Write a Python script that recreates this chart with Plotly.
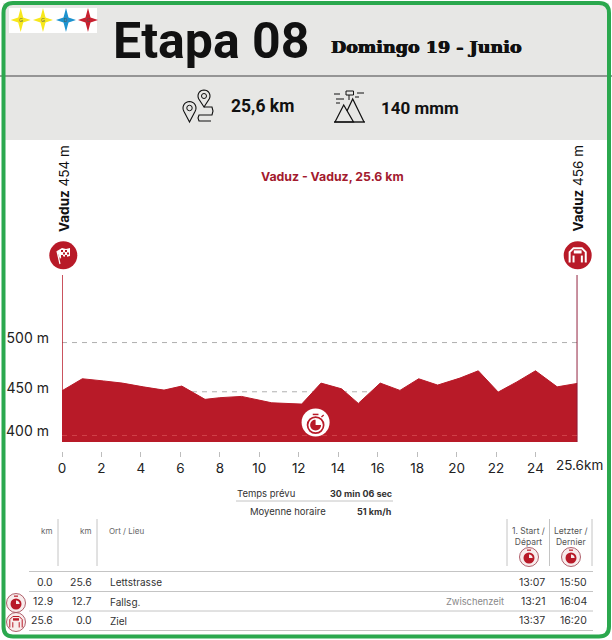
import numpy as np
import plotly.graph_objects as go

W, H = 612, 640
RED = "#b81a28"
DARK = "#222222"
GREEN = "#2ba84e"
GREY_BG = "#e7e7e5"
LINE_GREY = "#c4c4c4"
BLACK = "#111111"
FONT = "Inter"

# Profil (km auf der Achse des Bildes, Hoehe in m)
km = [0, 1.03, 2.1, 3.06, 4.12, 5.17, 6.07, 7.25, 8.0, 9.1, 10.63, 12.15, 13.13, 14.17,
      15.02, 16.13, 17.13, 18.08, 19.04, 20.17, 21.1, 22.11, 23.05, 24.0, 25.1, 26.12]
elevation = [451, 463.2, 461, 458.8, 455, 451.7, 455.8, 442.3, 444, 445.3, 438.8, 437.5, 458.8, 453,
             438.2, 458.8, 451.4, 463.2, 456.8, 463.9, 471.3, 449.7, 460, 471.3, 455, 458.5]
km_ticks = [0, 2, 4, 6, 8, 10, 12, 14, 16, 18, 20, 22, 24]
km_end_label = "25.6km"
elev_ticks = [500, 450, 405.6]
elev_labels = ["500 m", "450 m", "400 m"]

# Tabelle
col_km_done = ["0.0", "12.9", "25.6"]
col_km_left = ["25.6", "12.7", "0.0"]
col_place = ["Lettstrasse", "Fallsg.", "Ziel"]
col_note = ["", "Zwischenzeit", ""]
col_first = ["13:07", "13:21", "13:37"]
col_last = ["15:50", "16:04", "16:20"]


def X(px):
    return px / W


def Y(py):
    return 1 - py / H


shapes = []
annotations = []


def text(px, py, s, size=10, color=DARK, anchor="center", family=FONT, angle=0, shadow=None):
    font = dict(size=size, color=color, family=family)
    if shadow:
        font["shadow"] = shadow
    annotations.append(dict(x=X(px), y=Y(py), xref="paper", yref="paper", text=s, showarrow=False,
                            xanchor=anchor, yanchor="middle", textangle=angle, font=font,
                            borderpad=0, borderwidth=0))


def rect(x0, y0, x1, y1, fill, line=None):
    shapes.append(dict(type="rect", xref="paper", yref="paper", x0=X(x0), x1=X(x1), y0=Y(y0), y1=Y(y1),
                       fillcolor=fill, line=dict(width=0) if line is None else line))


def seg(x0, y0, x1, y1, color=LINE_GREY, width=1, dash="solid"):
    shapes.append(dict(type="line", xref="paper", yref="paper", x0=X(x0), x1=X(x1), y0=Y(y0), y1=Y(y1),
                       line=dict(color=color, width=width, dash=dash)))


def circle(cx, cy, r, fill="rgba(0,0,0,0)", color=None, width=1):
    shapes.append(dict(type="circle", xref="paper", yref="paper", x0=X(cx - r), x1=X(cx + r),
                       y0=Y(cy + r), y1=Y(cy - r), fillcolor=fill,
                       line=dict(width=0) if color is None else dict(color=color, width=width)))


def poly(points, fill="rgba(0,0,0,0)", color=None, width=1, close=True):
    d = "M" + " L".join(f"{X(a):.5f},{Y(b):.5f}" for a, b in points) + (" Z" if close else "")
    shapes.append(dict(type="path", xref="paper", yref="paper", path=d, fillcolor=fill,
                       line=dict(width=0) if color is None else dict(color=color, width=width)))


def star(cx, cy, color, letter):
    rx, ry, k = 10, 12, 2.5
    pts = [(cx, cy - ry), (cx + k, cy - k), (cx + rx, cy), (cx + k, cy + k),
           (cx, cy + ry), (cx - k, cy + k), (cx - rx, cy), (cx - k, cy - k)]
    poly(pts, fill=color)
    text(cx, cy, letter, size=5, color="#555555", family="Liberation Sans")


def pin(cx, cy, r, tip):
    angles = np.radians(np.arange(150, 391, 15))
    pts = [(cx + r * np.cos(a), cy + r * np.sin(a)) for a in angles]
    poly([(cx, tip)] + pts, color=BLACK, width=1.1)
    circle(cx, cy, r * 0.42, color=BLACK, width=1)


def pie(cx, cy, r, color):
    # Viertel oben rechts bleibt frei
    angles = np.radians(np.arange(0, 271, 15))
    poly([(cx, cy)] + [(cx + r * np.cos(a), cy + r * np.sin(a)) for a in angles], fill=color)


def stopwatch(cx, cy, r, color, bg):
    circle(cx, cy + r * 0.2, r * 0.62, fill=bg, color=color, width=1.7)
    seg(cx - r * 0.22, cy - r * 0.62, cx + r * 0.22, cy - r * 0.62, color, 1.5)
    seg(cx + r * 0.45, cy - r * 0.42, cx + r * 0.62, cy - r * 0.58, color, 1.3)
    pie(cx, cy + r * 0.2, r * 0.42, color)


def small_timer(cx, cy, r=9.5):
    circle(cx, cy, r, fill="#f8ecec", color="#9c3a48", width=0.8)
    circle(cx, cy + 1, r * 0.58, fill=RED)
    seg(cx - 2, cy - r * 0.72, cx + 2, cy - r * 0.72, RED, 1.2)
    angles = np.radians(np.arange(270, 361, 15))
    poly([(cx, cy + 1)] + [(cx + 3.6 * np.cos(a), cy + 1 + 3.6 * np.sin(a)) for a in angles], fill="#f8ecec")


def arch(cx, cy, r, color, width):
    # Zielbogen
    poly([(cx - r * 0.62, cy + r * 0.55), (cx - r * 0.62, cy - r * 0.25), (cx - r * 0.32, cy - r * 0.55),
          (cx + r * 0.32, cy - r * 0.55), (cx + r * 0.62, cy - r * 0.25), (cx + r * 0.62, cy + r * 0.55)],
         color=color, width=width, close=False)
    rect(cx - r * 0.3, cy - r * 0.38, cx + r * 0.3, cy - r * 0.14, color)
    seg(cx - r * 0.32, cy + r * 0.02, cx - r * 0.32, cy + r * 0.55, color, width)
    seg(cx + r * 0.32, cy + r * 0.02, cx + r * 0.32, cy + r * 0.55, color, width)


# Hintergrund und Kopf
rect(3, 3, 609, 140, GREY_BG)
seg(0, 76, W, 76, "#7a7a7a", 1.5)
rect(9, 8, 97, 33, "white")
star(20.7, 20, "#f7e81c", "G")
star(43, 20, "#f7e81c", "G")
star(66, 20, "#1d93cf", "D")
star(88, 20, "#c8202f", "C")
text(210.5, 41, "<b>Etapa 08</b>", size=50, color=BLACK, family="Roboto")
text(426.5, 47, "<b>Domingo 19 - Junio</b>", size=17.5, color=BLACK, family="DejaVu Serif",
     shadow="0.5px 0 0 #111111, -0.5px 0 0 #111111")
text(262, 106, "<b>25,6 km</b>", size=17.5, color=BLACK, family="Roboto")
text(420, 107.5, "<b>140 mmm</b>", size=17, color=BLACK, family="Roboto")

# Routen-Symbol
pin(204, 96, 6, 107)
pin(189.5, 108, 6.5, 122)
poly([(204, 107), (212, 107), (213, 111), (212, 115), (199, 115), (198, 118), (199, 121), (211, 121)],
     color=BLACK, width=1.1, close=False)

# Berg-Symbol
poly([(335, 122), (343.7, 105), (353.5, 122)], color=BLACK, width=1.2)
poly([(347, 111), (352.7, 99), (364, 122)], color=BLACK, width=1.2, close=False)
seg(334, 122, 365, 122, BLACK, 1.4)
seg(349, 92, 349, 100, BLACK, 1)
rect(346, 91, 353.5, 95, GREY_BG, dict(color=BLACK, width=1))
for a, b, c in [(334, 94, 340), (336, 99, 344), (336, 103, 340), (357, 93, 364), (355, 97, 359)]:
    seg(a, b, c, b, BLACK, 1)

# Texte und Symbole im Diagramm
text(64, 189, "<b>Vaduz</b> 454 m", size=13.5, color=BLACK, angle=-90)
text(577.5, 189, "<b>Vaduz</b> 456 m", size=13.5, color=BLACK, angle=-90)
text(332, 176, "<b>Vaduz - Vaduz, 25.6 km</b>", size=12.3, color="#a31a2e")

circle(63.3, 255.3, 14, fill=RED)
poly([(57, 251), (62, 248), (66, 249), (70, 248), (70, 256), (66, 257), (62, 256), (60, 259)], fill="white")
seg(57, 251, 60, 264, "white", 1.2)
for px, py in [(61, 250), (65, 250), (63, 252.5), (67, 252.5), (61, 255), (65, 255)]:
    rect(px, py, px + 2, py + 2, RED)

circle(577.7, 255.3, 14, fill=RED)
arch(577.7, 255.3, 13, "white", 2)

# Tabelle oben
seg(236, 501, 393, 501, LINE_GREY, 1)
text(237, 493, "Temps prévu", size=9.5, color="#333333", anchor="left")
text(392, 493, "<b>30 min 06 sec</b>", size=9, color="#333333", anchor="right")
text(250, 511, "Moyenne horaire", size=9.5, color="#333333", anchor="left")
text(392, 511, "<b>51 km/h</b>", size=9, color="#333333", anchor="right")

# Tabelle unten
for px in [58, 97, 507, 549.5, 592]:
    seg(px, 519, px, 566, LINE_GREY, 1)
text(46.5, 531, "km", size=8, color="#666666")
text(85, 531, "km", size=8, color="#666666")
text(109, 531, "Ort / Lieu", size=8, color="#666666", anchor="left")
text(528, 536, "1. Start /<br>Départ", size=8.5, color="#555555")
text(571, 536, "Letzter /<br>Dernier", size=8.5, color="#555555")
small_timer(529, 557)
small_timer(571, 557)
for py in [571.5, 591.5, 611, 630.5]:
    seg(29, py, 593, py, LINE_GREY, 1)

row_y = [582, 601.5, 620.5]
for i, py in enumerate(row_y):
    text(53, py, col_km_done[i], size=10.5, color="#333333", anchor="right")
    text(92, py, col_km_left[i], size=10.5, color="#333333", anchor="right")
    text(110, py, col_place[i], size=10, color="#333333", anchor="left")
    if col_note[i]:
        text(504, py, col_note[i], size=9.3, color="#888888", anchor="right")
    text(545, py, col_first[i], size=10.5, color="#333333", anchor="right")
    text(587, py, col_last[i], size=10.5, color="#333333", anchor="right")

small_timer(16, 603)
circle(16, 622, 9.5, fill="#f8ecec", color="#9c3a48", width=0.8)
arch(16, 622, 10, RED, 1)

# Rahmen
d = ("M{0},{1} L{2},{1} Q{3},{1} {3},{4} L{3},{5} Q{3},{6} {2},{6} L{0},{6} Q{7},{6} {7},{5} L{7},{4} Q{7},{1} {0},{1} Z"
     .format(X(13), Y(3), X(599), X(609), Y(13), Y(626.5), Y(636.5), X(3.5)))
shapes.append(dict(type="path", xref="paper", yref="paper", path=d, line=dict(color=GREEN, width=4)))

# Hilfslinien: grau auf Weiss, rosa nur ueber der Flaeche
for val in elev_ticks:
    shapes.append(dict(type="line", xref="x", yref="y", x0=km[0], x1=km[-1], y0=val, y1=val, layer="below",
                       line=dict(color="#b0b0b0", width=1, dash="5px,5px")))
for val, tint in [(elev_ticks[2], "rgba(235,110,110,0.45)")]:
    shapes.append(dict(type="line", xref="x", yref="y", x0=km[0], x1=km[-1], y0=val, y1=val, layer="above",
                       line=dict(color=tint, width=1, dash="5px,5px")))

fig = go.Figure()
fig.add_trace(go.Scatter(x=km, y=elevation, mode="lines", fill="tozeroy", fillcolor=RED,
                         line=dict(color=RED, width=1), hoverinfo="skip"))
fig.add_trace(go.Scatter(x=[km[0], km[0]], y=[399, 568.6], mode="lines", line=dict(color=RED, width=1.5),
                         hoverinfo="skip", cliponaxis=False))
fig.add_trace(go.Scatter(x=[km[-1], km[-1]], y=[399, 568.6], mode="lines", line=dict(color="#8e1a38", width=1.5),
                         hoverinfo="skip", cliponaxis=False))

annotations.append(dict(x=km[-1], y=Y(465), xref="x", yref="paper", text=km_end_label, showarrow=False,
                        xshift=2, yanchor="middle", font=dict(size=13.5, color=DARK, family=FONT)))

# Stoppuhr auf dem Profil
circle(315.6, 422.5, 14, fill="white")
stopwatch(315.6, 422.5, 13, RED, "white")

fig.update_layout(
    width=W, height=H,
    margin=dict(l=0, r=0, t=0, b=0, autoexpand=False),
    paper_bgcolor="white", plot_bgcolor="rgba(0,0,0,0)",
    showlegend=False,
    shapes=shapes, annotations=annotations,
    xaxis=dict(domain=[X(62), X(577.5)], range=[0, 26.13], tickmode="array", tickvals=km_ticks,
               ticktext=[str(v) for v in km_ticks], anchor="free", position=Y(450.5), ticks="outside",
               ticklen=5, tickcolor="#bdbdbd", showgrid=False, zeroline=False, showline=False,
               tickfont=dict(size=13.5, color=DARK, family=FONT)),
    yaxis=dict(domain=[Y(442), Y(275)], range=[399, 568.6], tickmode="array", tickvals=elev_ticks,
               ticktext=elev_labels, showgrid=False, zeroline=False, showline=False, ticks="",
               ticklabelstandoff=12, ticklabelshift=-4,
               tickfont=dict(size=14, color=DARK, family=FONT)),
)

fig.write_html("out.html", config=dict(displayModeBar=False),
               post_script="document.body.style.margin='0';document.body.style.overflow='hidden';")
